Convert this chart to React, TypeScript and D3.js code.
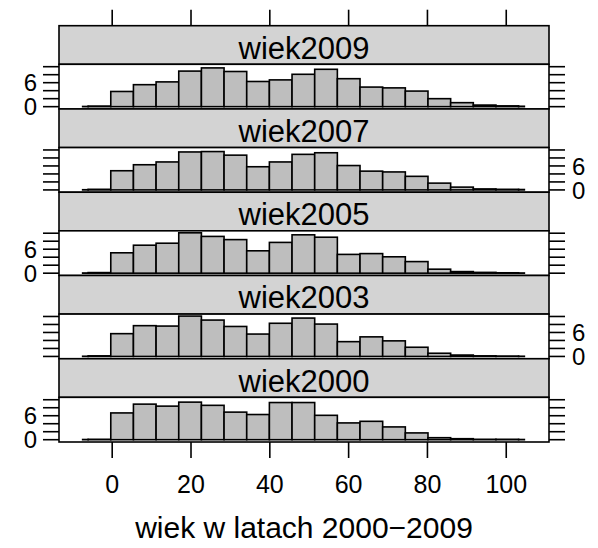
import React from "react";
import * as d3 from "d3";

const panelNames = ["wiek2009", "wiek2007", "wiek2005", "wiek2003", "wiek2000"];
const breaks = [-7.5, -6.11, -0.36, 5.39, 11.14, 16.89, 22.64, 28.39, 34.14, 39.89, 45.64, 51.39, 57.14, 62.89, 68.64, 74.39, 80.14, 85.89, 91.64, 97.39, 103.14, 104.6];
const h2009 = [0.05, 0.15, 3.8, 5.5, 6.2, 8.9, 9.7, 8.8, 6.3, 6.7, 8.1, 9.35, 7.0, 4.9, 4.7, 3.9, 2.0, 1.0, 0.4, 0.2, 0.1];
const h2007 = [0.05, 0.15, 4.8, 6.3, 7.0, 9.5, 9.6, 8.7, 5.8, 7.0, 8.9, 9.3, 6.1, 4.7, 4.5, 3.4, 1.7, 0.7, 0.25, 0.15, 0.1];
const h2005 = [0.05, 0.15, 5.1, 7.0, 7.5, 10.1, 9.2, 8.4, 5.6, 7.7, 9.6, 9.0, 4.7, 4.9, 4.1, 2.9, 1.0, 0.4, 0.2, 0.1, 0.05];
const h2003 = [0.05, 0.15, 5.7, 7.7, 7.6, 10.1, 9.1, 7.5, 5.6, 8.3, 9.6, 8.1, 3.7, 4.9, 3.9, 2.3, 0.8, 0.35, 0.15, 0.1, 0.05];
const h2000 = [0.05, 0.1, 6.7, 8.9, 8.4, 9.4, 8.6, 6.9, 6.3, 9.3, 9.3, 6.1, 4.2, 4.6, 3.2, 1.7, 0.5, 0.25, 0.1, 0.1, 0.05];
const panelHeights = [h2009, h2007, h2005, h2003, h2000];
const xTicks = [0, 20, 40, 60, 80, 100];
const yTicks = [0, 2, 4, 6, 8, 10];
const yLabels = [0, 6];
const xLabel = "wiek w latach 2000\u22122009";

const W = 598;
const H = 548;
const left = 59;
const right = 549;
const top0 = 25.7;
const period = 83.26;
const stripH = 38.6;
const tickLen = 16;
const font = "'Liberation Sans', Arial, Helvetica, sans-serif";

export default function App() {
  const x = d3.scaleLinear().domain([-13.5, 110.85]).range([left, right]);
  const lastBottom = top0 + period * panelNames.length;
  return (
    <svg width={W} height={H} style={{ position: "absolute", left: 0, top: 0 }} fontFamily={font}>
      <rect width={W} height={H} fill="white" />
      {panelNames.map((name, i) => {
        const sTop = top0 + i * period;
        const pTop = sTop + stripH;
        const pBot = sTop + period;
        const y = d3.scaleLinear().domain([-0.575, 10.6]).range([pBot, pTop]);
        const hs = panelHeights[i];
        const leftLabels = i % 2 === 0;
        return (
          <g key={name}>
            <rect x={left} y={sTop} width={right - left} height={stripH} fill="#D3D3D3" stroke="black" strokeWidth={1.6} />
            <text x={(left + right) / 2} y={sTop + stripH / 2 + 13.5} textAnchor="middle" fontSize={31} fill="black">{name}</text>
            <rect x={left} y={pTop} width={right - left} height={pBot - pTop} fill="white" stroke="none" />
            {hs.map((v, j) => (
              <rect key={j} x={x(breaks[j])} y={y(v)} width={x(breaks[j + 1]) - x(breaks[j])} height={y(0) - y(v)} fill="#BEBEBE" stroke="black" strokeWidth={1.6} />
            ))}
            <rect x={left} y={pTop} width={right - left} height={pBot - pTop} fill="none" stroke="black" strokeWidth={1.6} />
            {yTicks.map((t) => (
              <g key={t}>
                <line x1={left - tickLen} x2={left} y1={y(t)} y2={y(t)} stroke="black" strokeWidth={1.6} />
                <line x1={right} x2={right + tickLen} y1={y(t)} y2={y(t)} stroke="black" strokeWidth={1.6} />
              </g>
            ))}
            {yLabels.map((t) =>
              leftLabels ? (
                <text key={t} x={37} y={y(t)} dy="0.36em" textAnchor="end" fontSize={24}>{t}</text>
              ) : (
                <text key={t} x={572} y={y(t)} dy="0.36em" textAnchor="start" fontSize={24}>{t}</text>
              )
            )}
          </g>
        );
      })}
      {xTicks.map((t) => (
        <g key={t}>
          <line x1={x(t)} x2={x(t)} y1={top0 - tickLen} y2={top0} stroke="black" strokeWidth={1.6} />
          <line x1={x(t)} x2={x(t)} y1={lastBottom} y2={lastBottom + tickLen} stroke="black" strokeWidth={1.6} />
          <text x={x(t)} y={493} textAnchor="middle" fontSize={25}>{t}</text>
        </g>
      ))}
      <text x={(left + right) / 2} y={538} textAnchor="middle" fontSize={30}>{xLabel}</text>
    </svg>
  );
}
